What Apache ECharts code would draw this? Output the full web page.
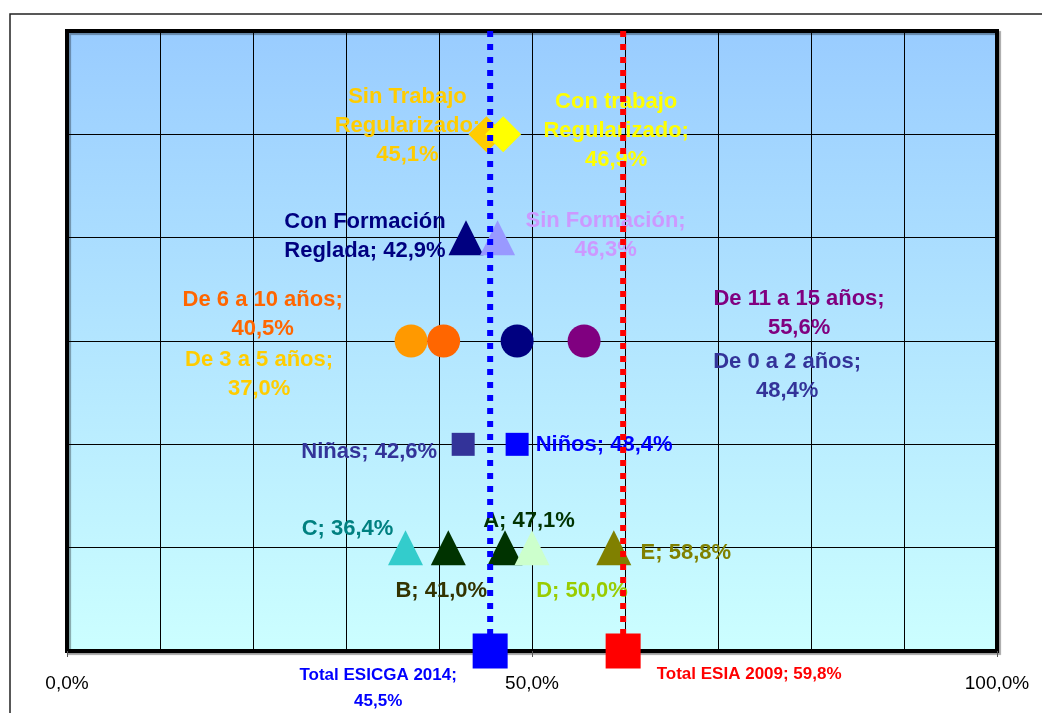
<!DOCTYPE html>
<html><head><meta charset="utf-8">
<script src="https://cdn.jsdelivr.net/npm/echarts@6/dist/echarts.min.js"></script>
<style>html,body{margin:0;padding:0;background:#fff}#c{width:1042px;height:713px}</style>
</head><body><div id="c"></div><script>
// Row of each group on the (hidden) vertical axis
const rowTotals = 0, rowEstratos = 1, rowSexo = 2, rowEdad = 3, rowFormacion = 4, rowTrabajo = 5;

const trabajoNames = ['Sin Trabajo Regularizado', 'Con trabajo Regularizado'];
const trabajoValues = [45.1, 46.9];
const formacionNames = ['Con Formación Reglada', 'Sin Formación'];
const formacionValues = [42.9, 46.3];
const edadNames = ['De 3 a 5 años', 'De 6 a 10 años', 'De 0 a 2 años', 'De 11 a 15 años'];
const edadValues = [37.0, 40.5, 48.4, 55.6];
const sexoNames = ['Niñas', 'Niños'];
const sexoValues = [42.6, 48.4];
const estratoNames = ['C', 'B', 'A', 'D', 'E'];
const estratoValues = [36.4, 41.0, 47.1, 50.0, 58.8];
const totalNames = ['Total ESICGA 2014', 'Total ESIA 2009'];
const totalValues = [45.5, 59.8];
const xTickValues = [0, 50, 100];

// Styles and label layout (not data)
const FONT = "'Liberation Sans', Arial, sans-serif";
const styles = {
  'Sin Trabajo Regularizado': {c:'#FFCC00', t:'#FFCC00', lines:['Sin Trabajo','Regularizado;','{v}'], off:[-79,-8]},
  'Con trabajo Regularizado': {c:'#FFFF00', t:'#FFFF00', lines:['Con trabajo','Regularizado;','{v}'], off:[113,-3]},
  'Con Formación Reglada': {c:'#000080', t:'#000080', lines:['Con Formación','Reglada; {v}'], off:[-101,-1]},
  'Sin Formación': {c:'#9999FF', t:'#CC99FF', lines:['Sin Formación;','{v}'], off:[108,-2]},
  'De 3 a 5 años': {c:'#FF9900', t:'#FFCC00', lines:['De 3 a 5 años;','{v}'], off:[-152,33]},
  'De 6 a 10 años': {c:'#FF6600', t:'#FF6600', lines:['De 6 a 10 años;','{v}'], off:[-181,-27]},
  'De 0 a 2 años': {c:'#000080', t:'#333399', lines:['De 0 a 2 años;','{v}'], off:[270,35]},
  'De 11 a 15 años': {c:'#800080', t:'#800080', lines:['De 11 a 15 años;','{v}'], off:[215,-28]},
  'Niñas': {c:'#333399', t:'#333399', lines:['Niñas; {v}'], off:[-94,8]},
  'Niños': {c:'#0000FF', t:'#0000FF', lines:['Niños; {v}'], off:[87,1]},
  'C': {c:'#33CCCC', t:'#008080', lines:['C; {v}'], off:[-58,-19]},
  'B': {c:'#003300', t:'#333300', lines:['B; {v}'], off:[-7,43]},
  'A': {c:'#003300', t:'#003300', lines:['A; {v}'], off:[24,-27]},
  'D': {c:'#CCFFCC', t:'#99CC00', lines:['D; {v}'], off:[50,43]},
  'E': {c:'#808000', t:'#808000', lines:['E; {v}'], off:[72,5]},
  'Total ESICGA 2014': {c:'#0000FF', t:'#0000FF', lines:['Total ESICGA 2014;','{v}'], off:[-112,37], fs:17, lh:26},
  'Total ESIA 2009': {c:'#FF0000', t:'#FF0000', lines:['Total ESIA 2009; {v}'], off:[126,23], fs:17, lh:26}
};

function fmt(v){ return v.toFixed(1).replace('.', ',') + '%'; }

function makeSeries(names, values, row, symbol, size, z){
  return {
    type: 'scatter', symbol: symbol, symbolSize: size, z: z || 2,
    xAxisIndex: 0, yAxisIndex: 0, silent: true,
    data: names.map((n, i) => {
      const s = styles[n];
      return {
        name: n, value: [values[i], row],
        itemStyle: {color: s.c, opacity: 1},
        label: {
          show: true, position: 'inside', offset: s.off,
          formatter: s.lines.join('\n').replace('{v}', fmt(values[i])),
          color: s.t, fontWeight: 'bold', fontFamily: FONT,
          fontSize: s.fs || 22, lineHeight: s.lh || 29,
          align: 'center', verticalAlign: 'middle'
        }
      };
    })
  };
}

function vline(v, color){
  return {
    type: 'line', z: 3, silent: true, symbol: 'none',
    xAxisIndex: 0, yAxisIndex: 0,
    data: [[v, 6], [v, 0]],
    lineStyle: {color: color, width: 6, type: [6, 7], cap: 'butt'}
  };
}

const chart = echarts.init(document.getElementById('c'), null, {renderer: 'canvas'});
chart.setOption({
  animation: false,
  backgroundColor: '#fff',
  graphic: [{
    type: 'rect', shape: {x: 10, y: 14, width: 1040, height: 710},
    style: {fill: 'none', stroke: '#222', lineWidth: 1.5}, z: -10
  }],
  grid: {
    left: 67, top: 31, width: 930, height: 620,
    show: true, borderColor: '#000', borderWidth: 4,
    shadowColor: 'rgba(0,0,0,0.35)', shadowOffsetX: 2, shadowOffsetY: 2, shadowBlur: 1,
    backgroundColor: {type: 'linear', x: 0, y: 0, x2: 0, y2: 1,
      colorStops: [{offset: 0, color: '#99CCFF'}, {offset: 1, color: '#CCFFFF'}]}
  },
  xAxis: [{
    type: 'value', min: 0, max: 100, interval: 50,
    axisLine: {show: true, lineStyle: {color: '#000', width: 1}},
    axisTick: {show: true, length: 6, lineStyle: {color: '#555'}},
    axisLabel: {formatter: v => fmt(v), fontSize: 19, showMinLabel: true, showMaxLabel: true,
      fontFamily: FONT, color: '#000', margin: 23},
    splitLine: {show: false}
  }, {
    type: 'value', min: 0, max: 100, interval: 10, position: 'bottom',
    axisLine: {show: false}, axisTick: {show: false}, axisLabel: {show: false},
    splitLine: {show: true, lineStyle: {color: '#000', width: 1}}
  }],
  yAxis: {
    type: 'value', min: 0, max: 6, interval: 1,
    axisLine: {show: false}, axisTick: {show: false}, axisLabel: {show: false},
    splitLine: {show: true, lineStyle: {color: '#000', width: 1}}
  },
  series: [
    makeSeries(trabajoNames, trabajoValues, rowTrabajo, 'diamond', 36),
    makeSeries(formacionNames, formacionValues, rowFormacion, 'triangle', 35),
    makeSeries(edadNames, edadValues, rowEdad, 'circle', 33),
    makeSeries(sexoNames, sexoValues, rowSexo, 'rect', 23),
    makeSeries(estratoNames, estratoValues, rowEstratos, 'triangle', 35),
    vline(totalValues[0], '#0000FF'),
    vline(totalValues[1], '#FF0000'),
    makeSeries(totalNames, totalValues, rowTotals, 'rect', 35, 4)
  ]
});
</script></body></html>
